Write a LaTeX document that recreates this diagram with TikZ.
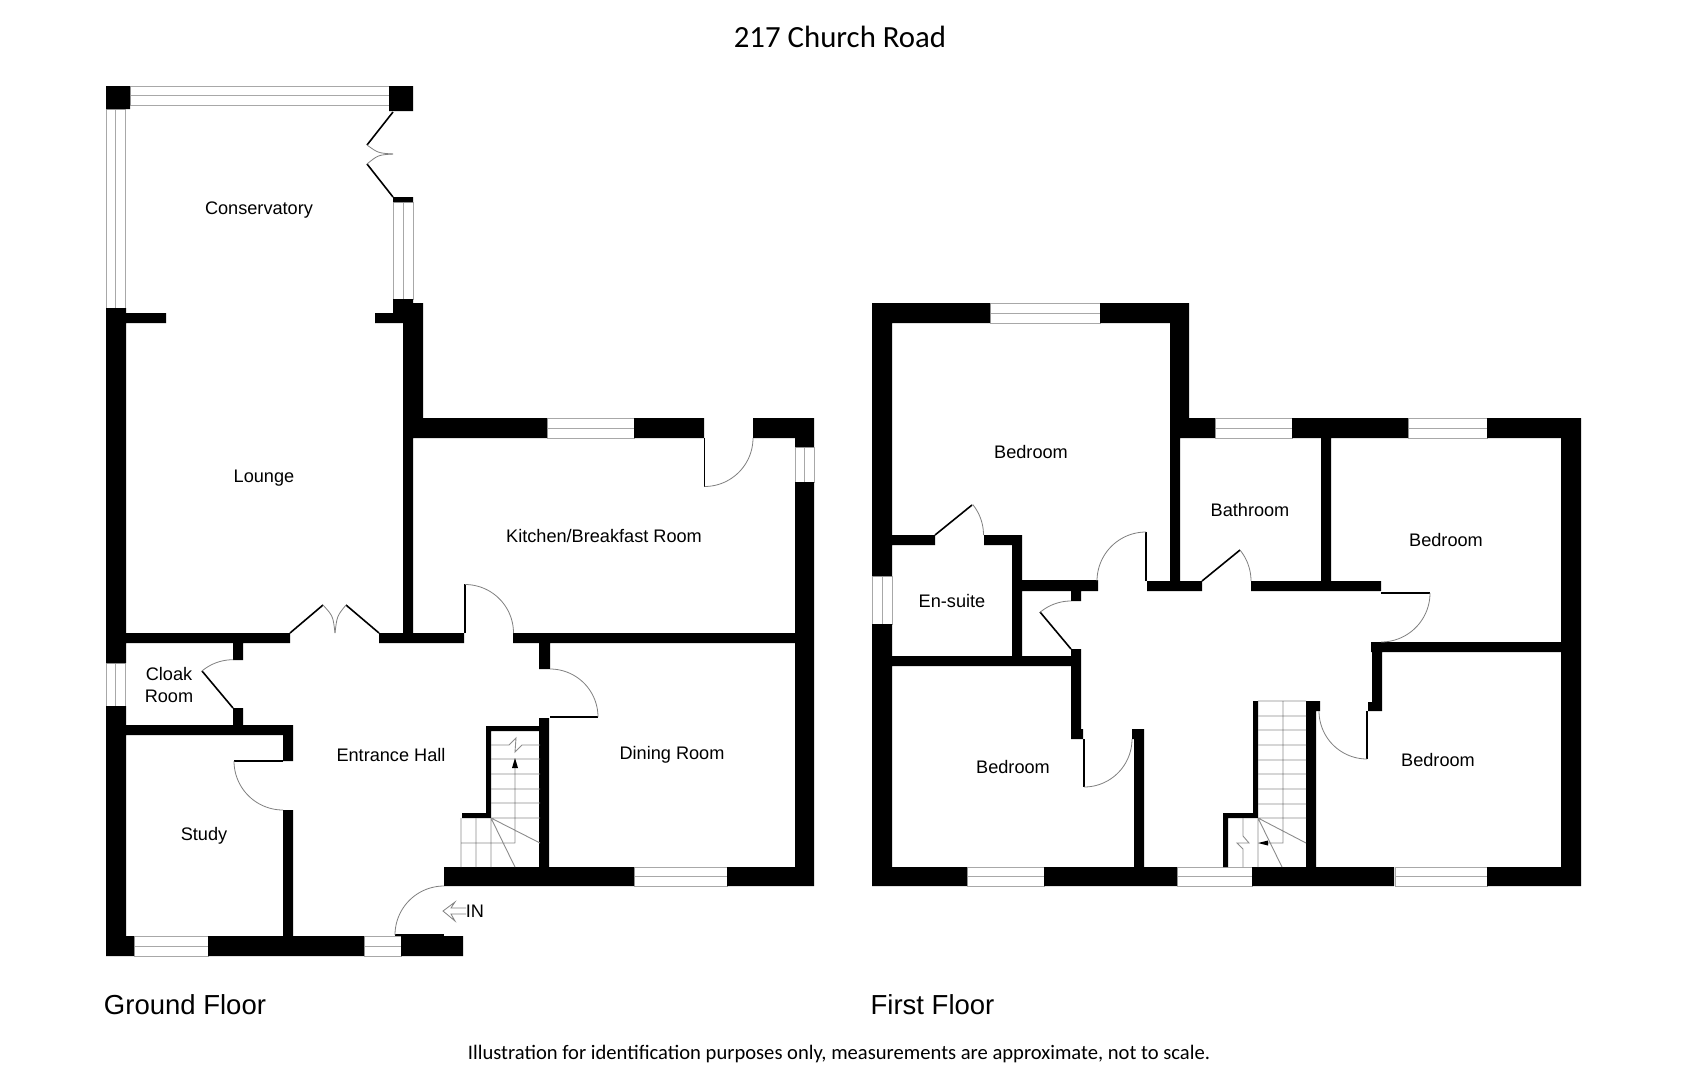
\documentclass[tikz,border=0pt]{standalone}
\usepackage{fontspec}
\setmainfont{Liberation Sans}
\newfontfamily\carl{Carlito}
\tikzset{
  wall/.style={fill=black,draw=none},
  glass/.style={draw=winline,fill=white,line width=0.9pt},
  glassmid/.style={draw=winline,line width=0.9pt},
  leaf/.style={draw=black,line width=1.6pt,line cap=butt},
  swing/.style={draw=swingline,line width=0.8pt},
  tread/.style={draw=treadline,line width=0.9pt},
  room/.style={inner sep=0pt,anchor=mid,yshift=-4.3pt,font=\fontsize{18.15}{22}\selectfont,align=center},
  floorname/.style={inner sep=0pt,anchor=mid,yshift=-6.5pt,font=\fontsize{27.5}{30}\selectfont},
  heading/.style={inner sep=0pt,anchor=mid,yshift=-8pt,font=\carl\fontsize{30.8}{32}\selectfont},
  foot/.style={inner sep=0pt,anchor=mid,yshift=-4.3pt,font=\carl\fontsize{20.6}{22}\selectfont}
}
\definecolor{winline}{HTML}{A8A8A8}
\definecolor{swingline}{HTML}{808080}
\definecolor{treadline}{HTML}{8C8C8C}
\newcommand{\doorarc}[5]{\draw[swing] plot[domain=#3:#4,samples=30] ({#1+#5*cos(\x)},{#2+#5*sin(\x)});}
\newcommand{\winh}[3]{\draw[glass] (#1,#3) rectangle (#2,#3+19.5); \draw[glassmid] (#1,#3+9.75) -- (#2,#3+9.75);}
\newcommand{\winv}[3]{\draw[glass] (#3,#1) rectangle (#3+19.5,#2); \draw[glassmid] (#3+9.75,#1) -- (#3+9.75,#2);}
\begin{document}
\begin{tikzpicture}[x=1pt,y=-1pt]
\useasboundingbox (0,0) rectangle (1686,1080);
\fill[white] (0,0) rectangle (1686,1080);

% ---------- GROUND FLOOR ----------
% windows
\winh{130}{389}{86}
\winv{109}{308}{106}
\winv{202}{299}{393.5}
\winh{547}{634}{418.5}
\winv{447}{482}{795}
\winv{663}{706}{106}
\winh{134}{208}{936.5}
\winh{364}{401}{936.5}
\winh{634}{727}{867}
% walls
\fill[wall]
  (106,86) rectangle (130,109)
  (389,86) rectangle (413,111)
  (393,197) rectangle (413,202)
  (106,308) rectangle (126,663)
  (106,706) rectangle (126,956)
  (126,313) rectangle (166,323)
  (375,313) rectangle (403,323)
  (393,299) rectangle (413,313)
  (403,303) rectangle (423,438)
  (403,438) rectangle (413,643)
  (423,418) rectangle (547,438)
  (634,418) rectangle (704,438)
  (753,418) rectangle (814,438)
  (795,438) rectangle (814,447)
  (795,482) rectangle (814,886)
  (126,633) rectangle (290,643)
  (379,633) rectangle (464,643)
  (513,633) rectangle (795,643)
  (233,643) rectangle (243,660)
  (233,708) rectangle (243,725)
  (126,725) rectangle (293,735)
  (283,735) rectangle (293,761)
  (283,810) rectangle (293,936)
  (539,643) rectangle (550,669)
  (539,718) rectangle (549,867)
  (486,726) rectangle (539,731)
  (486,731) rectangle (491,818)
  (462,813) rectangle (486,818)
  (444,867) rectangle (634,886)
  (727,867) rectangle (795,886)
  (106,936) rectangle (134,956)
  (208,936) rectangle (364,956)
  (401,936) rectangle (463,956);
% door leaves
\draw[leaf] (393,112) -- (367,145);
\draw[leaf] (393,197) -- (367,164);
\draw[swing] (367,145) .. controls (378,153) .. (393,154);
\draw[swing] (367,164) .. controls (378,155) .. (393,154);
\draw[leaf] (290,633) -- (323,605);
\draw[leaf] (379,633) -- (346,605);
\draw[swing] (323,605) .. controls (333,616) .. (335,633);
\draw[swing] (346,605) .. controls (337,616) .. (335,633);
\draw[leaf] (704.5,438) -- (704.5,487);
\doorarc{704.5}{438}{0}{90}{48.5}
\draw[leaf] (465,633) -- (465,584);
\doorarc{465}{633}{-90}{0}{48.5}
\draw[leaf] (550,717) -- (598,717);
\doorarc{550}{717}{-90}{0}{48}
\draw[leaf] (283,761) -- (234,761);
\doorarc{283}{761}{90}{180}{49}
\draw[leaf] (444,935) -- (395,935);
\doorarc{444}{935}{180}{270}{49}
\draw[leaf] (233,708) -- (202,671);
\doorarc{233}{708}{230}{270}{48.3}
% stairs
\draw[tread] (491,759) -- (540,759) (491,774) -- (540,774) (491,789) -- (540,789)
  (491,803) -- (540,803) (491,818) -- (540,818) (461,843) -- (515,843)
  (461,818) -- (461,867) (476,818) -- (476,867) (491,818) -- (491,867)
  (491,818) -- (540,843) (491,818) -- (515,867)
  (515,843) -- (515,767);
\draw[tread] (491,745) -- (509,745) -- (516,738) -- (515,752) -- (522,745) -- (540,745);
\fill[black] (515,758) -- (518,768) -- (512,768) -- cycle;
% entrance arrow
\draw[swing] (466,908) -- (451,908) -- (455,902) -- (443,911) -- (455,921) -- (451,914) -- (466,914);

% ---------- FIRST FLOOR ----------
\winh{990}{1100}{303.5}
\winh{1215}{1292}{418.5}
\winh{1408}{1487}{418.5}
\winv{576}{624}{872.5}
\winh{967}{1044}{867}
\winh{1177}{1252}{867}
\winh{1395}{1487}{867}
\fill[wall]
  (872,303) rectangle (990,323)
  (1100,303) rectangle (1189,323)
  (872,323) rectangle (892,576)
  (872,624) rectangle (892,886)
  (1170,323) rectangle (1189,418)
  (1170,418) rectangle (1215,438)
  (1170,438) rectangle (1180,581)
  (1292,418) rectangle (1408,438)
  (1487,418) rectangle (1581,438)
  (1561,438) rectangle (1581,886)
  (1321,438) rectangle (1331,581)
  (892,535) rectangle (935,545)
  (984,535) rectangle (1022,545)
  (1012,545) rectangle (1022,656)
  (1022,580) rectangle (1098,591)
  (1147,581) rectangle (1202,591)
  (1251,581) rectangle (1381,591)
  (1071,591) rectangle (1081,601)
  (1071,649) rectangle (1081,729)
  (892,656) rectangle (1081,666)
  (1071,729) rectangle (1083,739)
  (1132,729) rectangle (1144,739)
  (1134,739) rectangle (1144,867)
  (1371,642) rectangle (1561,652)
  (1372,652) rectangle (1382,711)
  (1368,702) rectangle (1372,711)
  (1306,701) rectangle (1320,711)
  (1306,711) rectangle (1316,867)
  (1253,701) rectangle (1258,818)
  (1223,813) rectangle (1253,818)
  (1223,818) rectangle (1228,867)
  (872,867) rectangle (967,886)
  (1044,867) rectangle (1177,886)
  (1252,867) rectangle (1394,886)
  (1487,867) rectangle (1581,886);
\draw[leaf] (935,535) -- (972,505);
\doorarc{935}{535}{-39}{0}{48.5}
\draw[leaf] (1146,581) -- (1146,532);
\doorarc{1146}{581}{180}{270}{49}
\draw[leaf] (1202,581) -- (1240,550);
\doorarc{1202}{581}{-39}{0}{49}
\draw[leaf] (1071,649) -- (1040,612);
\doorarc{1071}{649}{230}{270}{48}
\draw[leaf] (1381,593) -- (1430,593);
\doorarc{1381}{593}{0}{90}{49}
\draw[leaf] (1084,739) -- (1084,787);
\doorarc{1084}{739}{0}{90}{48}
\draw[leaf] (1367,711) -- (1367,759);
\doorarc{1367}{711}{90}{180}{48}
% stairs
\draw[tread] (1258,701) -- (1306,701) (1258,716) -- (1306,716) (1258,730) -- (1306,730)
  (1258,745) -- (1306,745) (1258,760) -- (1306,760) (1258,774) -- (1306,774)
  (1258,789) -- (1306,789) (1258,804) -- (1306,804) (1258,818) -- (1306,818)
  (1283,701) -- (1283,843) -- (1267,843)
  (1258,818) -- (1258,867)
  (1258,818) -- (1306,843) (1258,818) -- (1282,867);
\draw[tread] (1243,818) -- (1243,836) -- (1249,843) -- (1237,843) -- (1243,849) -- (1243,867);
\fill[black] (1258,843) -- (1268,840.5) -- (1268,845.5) -- cycle;

% ---------- TEXT ----------
\node[heading] (title) at (840,37) {217 Church Road};
\node[room] (conservatory) at (259,208) {Conservatory};
\node[room] (lounge) at (264,476) {Lounge};
\node[room] (kitchen) at (604,536) {Kitchen/Breakfast Room};
\node[room] (cloak) at (169,696) {Cloak\\Room};
\node[room] (hall) at (391,755) {Entrance Hall};
\node[room] (dining) at (672,753) {Dining Room};
\node[room] (study) at (204,834) {Study};
\node[room] (in) at (475,911) {IN};
\node[room] (bedA) at (1031,452) {Bedroom};
\node[room] (bath) at (1250,510) {Bathroom};
\node[room] (bedB) at (1446,540) {Bedroom};
\node[room] (ensuite) at (952,601) {En-suite};
\node[room] (bedC) at (1013,767) {Bedroom};
\node[room] (bedD) at (1438,760) {Bedroom};
\node[floorname] (ground) at (185,1005) {Ground Floor};
\node[floorname] (first) at (932.5,1005) {First Floor};
\node[foot] (note) at (839,1053) {Illustration for identification purposes only, measurements are approximate, not to scale.};
\end{tikzpicture}
\end{document}
